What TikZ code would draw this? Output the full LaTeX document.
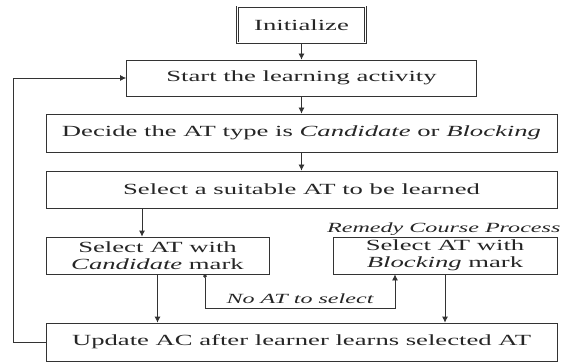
\documentclass[tikz,border=0pt]{standalone}
\usepackage{fontspec}
\setmainfont{Liberation Serif}[FakeStretch=1.72]
\usetikzlibrary{arrows.meta,calc}
\begin{document}
\begin{tikzpicture}[x=1pt,y=-1pt,
  line/.style={draw=black!80, line width=0.8pt},
  box/.style={line, minimum width=#1, minimum height=37pt, inner sep=0pt,
    align=center, text=black!85, font=\fontsize{15.5}{17}\selectfont},
  lbl/.style={inner sep=0pt, text=black!85, font=\fontsize{14}{16}\selectfont\itshape},
  arr/.style={line, -{Latex[length=6pt,width=6pt]}},
  dotarr/.style={line, {Circle[length=3.5pt]}-{Latex[length=6pt,width=6pt]}}]
\useasboundingbox (0,0) rectangle (572,363);
\node[box=128pt, minimum height=36pt, double, double distance=1pt, line width=0.6pt] (init) at (301.5,25) {Initialize};
\node[box=350pt, minimum height=36pt] (start) at (301.5,78) {Start the learning activity};
\node[box=511pt, minimum height=38pt] (decide) at (301.5,133) {Decide the AT type is \textit{Candidate} or \textit{Blocking}};
\node[box=511pt] (select) at (301.5,189.5) {Select a suitable AT to be learned};
\node[box=223pt] (cand) at (157.5,255.5) {Select AT with\\\textit{Candidate} mark};
\node[box=224pt] (block) at (445,255.5) {Select AT with\\\textit{Blocking} mark};
\node[box=511pt, minimum height=38pt] (update) at (301.5,342) {Update AC after learner learns selected AT};
\node[lbl, anchor=west] (remedy) at (327,229) {Remedy Course Process};
\node[lbl] (noat) at (300,299) {No AT to select};
\draw[arr] (init) -- (start);
\draw[arr] (start) -- (decide);
\draw[arr] (decide) -- (select);
\draw[arr] (select.south -| cand.north) ++(-15.5,0) -- ($(cand.north)+(-15.5,0)$);
\draw[arr] (cand.south) -- (cand.south |- update.north);
\draw[arr] (block.south) -- (block.south |- update.north);
\draw[dotarr] ($(cand.south)+(47.5,0)$) -- ++(0,34) -| ($(block.south)+(-50,0)$);
\draw[arr] (update.west) -- ++(-32,0) |- (start.west);
\end{tikzpicture}
\end{document}
